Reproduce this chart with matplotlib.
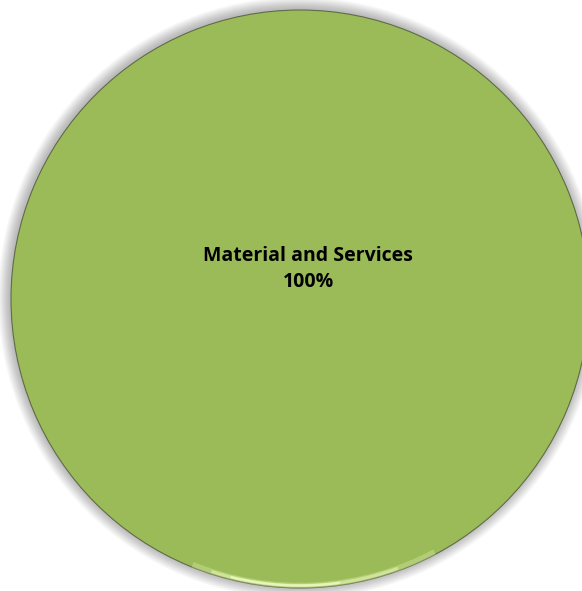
import matplotlib.pyplot as plt
from matplotlib.patches import Circle, Arc

categories = ["Material and Services"]
values = [100]
colors = ["#9BBB59"]

CX, CY, R = 300, 299, 289

fig = plt.figure(figsize=(5.82, 5.91), dpi=100)
ax = fig.add_axes([0, 0, 1, 1])

# soft drop shadow behind the pie
for i in range(12, 0, -1):
    ax.add_patch(Circle((CX - 1, CY - 1), R + i, facecolor="black",
                        edgecolor="none", alpha=0.022, zorder=0))

wedges, _ = ax.pie(values, colors=colors, center=(CX, CY), radius=R,
                   startangle=90, frame=True,
                   wedgeprops=dict(edgecolor="#5f6b48", linewidth=0.8))

# light bevel along the lower rim, brightest just left of the bottom
for w, a, t1, t2 in [(4.0, 0.3, 62, 112), (2.2, 0.55, 70, 108), (1.6, 0.95, 82, 104)]:
    ax.add_patch(Arc((CX, CY), 2 * R - 5, 2 * R - 5, theta1=t1, theta2=t2,
                     color="#e8f8b8", linewidth=w, alpha=a, zorder=3))

total = sum(values)
for name, v in zip(categories, values):
    ax.text(CX + 8, CY - 30, f"{name}\n{v / total * 100:.0f}%",
            ha="center", va="center", fontsize=14, fontweight="bold",
            family=["Open Sans", "DejaVu Sans"], linespacing=1.4, zorder=4)

ax.set_xlim(0, 582)
ax.set_ylim(591, 0)
ax.set_aspect("equal")
ax.axis("off")
fig.savefig("out.png", dpi=100)
